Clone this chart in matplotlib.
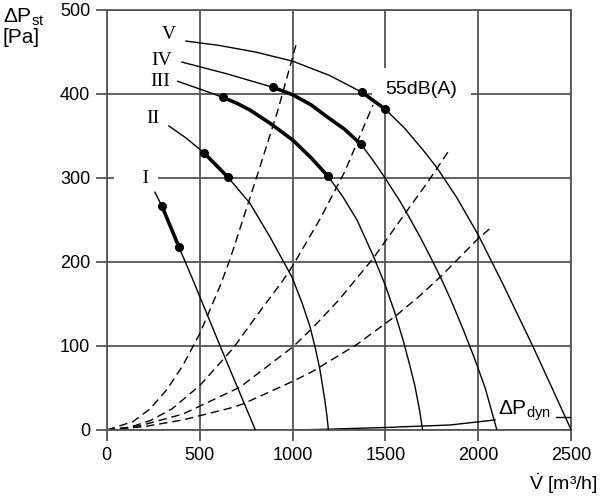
import matplotlib
matplotlib.use('Agg')
import matplotlib.pyplot as plt
import numpy as np

plt.rcParams['font.family'] = ['Liberation Sans', 'DejaVu Sans']
plt.rcParams['mathtext.fontset'] = 'custom'
plt.rcParams['mathtext.rm'] = 'Liberation Sans'
plt.rcParams['mathtext.it'] = 'Liberation Sans:italic'

# fan curves (flow m3/h, static pressure Pa)
fan_names = ['I', 'II', 'III', 'IV', 'V']
fan_x = [
    [259, 296, 388, 463, 625, 800],
    [334, 430, 523, 652, 770, 878, 997, 1050, 1094, 1125, 1148, 1172, 1185, 1193],
    [383, 500, 625, 700, 770, 880, 1002, 1100, 1191, 1270, 1347, 1433, 1498, 1550, 1595, 1630,
     1659, 1685, 1700],
    [404, 647, 894, 1002, 1100, 1185, 1280, 1369, 1430, 1498, 1579, 1616, 1686, 1740, 1794, 1850,
     1918, 1980, 2037, 2100],
    [426, 600, 800, 1002, 1200, 1374, 1498, 1600, 1700, 1778, 1886, 2000, 2134, 2295, 2403, 2500],
]
fan_y = [
    [283, 267, 218, 179, 92, 0],
    [362, 347, 330, 301, 270, 230, 182, 152, 123, 95, 71, 38, 17, 0],
    [415, 406, 396, 389, 381, 365, 345, 324, 302, 278, 250, 208, 173, 140, 107, 78,
     52, 22, 0],
    [438, 424, 408, 399, 387, 373, 358, 340, 322, 300, 272, 258, 230, 207, 183, 156,
     120, 85, 50, 0],
    [463, 458, 450, 439, 422, 402, 382, 360, 334, 312, 276, 232, 173, 99, 47, 0],
]
# bold (55 dB(A)) range on each curve
bold_x0 = [296, 523, 625, 894, 1374]
bold_x1 = [388, 652, 1191, 1369, 1498]

# system curves (dashed)
sys_x = [
    [0, 141, 232, 323, 410, 501, 609, 663, 814, 920, 1018],
    [0, 120, 232, 350, 501, 679, 820, 948, 1002, 1150, 1282, 1433],
    [0, 178, 410, 717, 1002, 1110, 1250, 1433, 1600, 1724, 1843],
    [0, 200, 410, 663, 733, 1002, 1110, 1347, 1562, 1686, 1794, 2000, 2074],
]
sys_y = [
    [0, 10, 25, 48, 77, 115, 171, 203, 306, 380, 458],
    [0, 3, 11, 25, 53, 97, 140, 178, 196, 252, 308, 387],
    [0, 5, 19, 51, 99, 122, 155, 204, 256, 294, 333],
    [0, 4, 12, 26, 31, 58, 70, 102, 137, 160, 182, 228, 242],
]

# dynamic pressure line
dyn_x = [1000, 1200, 1500, 1850, 2090]
dyn_y = [0, 1, 3, 6, 12]

x_ticks = [0, 500, 1000, 1500, 2000, 2500]
y_ticks = [0, 100, 200, 300, 400, 500]

fig = plt.figure(figsize=(6, 5), dpi=100)
ax = fig.add_axes([0.178, 0.14, 0.774, 0.84])
ax.set_xlim(0, 2500)
ax.set_ylim(0, 500)
ax.set_xticks(x_ticks)
ax.set_yticks(y_ticks)
ax.grid(True, color='#555555', linewidth=1.3, zorder=0)
ax.set_axisbelow(True)
for s in ax.spines.values():
    s.set_color('#555555')
    s.set_linewidth(1.3)
ax.tick_params(direction='out', length=8, width=1.3, color='#555555', labelsize=13, pad=4)

for xs, ys in zip(sys_x, sys_y):
    ax.plot(xs, ys, color='black', linewidth=1.0, dashes=(6, 3.5), zorder=2)

ax.plot(dyn_x, dyn_y, color='black', linewidth=1.0, zorder=2)

for xs, ys, x0, x1 in zip(fan_x, fan_y, bold_x0, bold_x1):
    xs = np.array(xs)
    ys = np.array(ys)
    ax.plot(xs, ys, color='black', linewidth=1.0, zorder=3)
    m = (xs >= x0) & (xs <= x1)
    ax.plot(xs[m], ys[m], color='black', linewidth=2.6, solid_capstyle='round', zorder=4)
    ax.plot([x0, x1], [ys[xs == x0][0], ys[xs == x1][0]], 'o', color='black', markersize=5.5, zorder=5)

# curve labels
serif = ['Liberation Serif', 'DejaVu Serif']
ax.text(334, 471, 'V', family=serif, fontsize=14, ha='center', va='center')
ax.text(296, 440, 'IV', family=serif, fontsize=14, ha='center', va='center')
ax.text(286, 415, 'III', family=serif, fontsize=14, ha='center', va='center')
ax.text(248, 371, 'II', family=serif, fontsize=14, ha='center', va='center')
ax.text(226, 299, '    I', family=serif, fontsize=14, ha='right', va='center',
        bbox=dict(facecolor='white', edgecolor='none', boxstyle='square,pad=0.45'), zorder=1.5)

ax.text(1693, 405, '55dB(A)', fontsize=14, ha='center', va='center',
        bbox=dict(facecolor='white', edgecolor='none', boxstyle='square,pad=0.7'), zorder=1.5)

ax.text(2247, 23, r'$\Delta\mathrm{P}_{\mathrm{dyn}}$', fontsize=15, ha='center', va='center', zorder=6)
ax.plot([2420, 2500], [15, 15], color='black', linewidth=1.0, zorder=3)

fig.text(0.005, 0.965, r'$\Delta\mathrm{P}_{\mathrm{st}}$', fontsize=15, ha='left', va='center')
fig.text(0.005, 0.925, '[Pa]', fontsize=15, ha='left', va='center')
fig.text(0.997, 0.032, r'$\dot{\mathrm{V}}$ [m³/h]', fontsize=14, ha='right', va='center')

fig.savefig('out.png', dpi=100, facecolor='white')
